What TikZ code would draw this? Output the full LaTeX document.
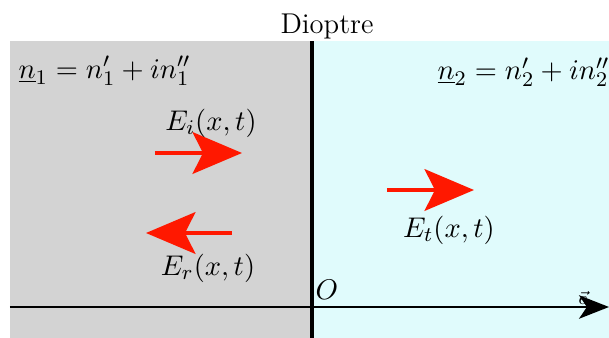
\documentclass[tikz,border=0pt]{standalone}
\usetikzlibrary{arrows.meta}
\definecolor{grayzone}{RGB}{211,211,211}
\definecolor{cyanzone}{RGB}{224,251,252}
\definecolor{wavered}{RGB}{255,24,0}
\begin{document}
\begin{tikzpicture}[x=0.3846pt,y=-0.3846pt,
  wave/.style={wavered,line width=1.6pt,-{Stealth[length=19pt,width=16pt,inset=4pt]}},
  lbl/.style={inner sep=0pt,font=\fontsize{11}{13}\selectfont}]
\useasboundingbox (0,0) rectangle (609,338);
\fill[grayzone] (10,41) rectangle (312,338);
\fill[cyanzone] (312,41) rectangle (609,338);
\node[lbl] (title) at (327,27) {Dioptre};
\coordinate (top) at (312,41);
\coordinate (bot) at (312,338);
\draw[line width=1.3pt] (top) -- (bot);
\coordinate (xa) at (10,307);
\coordinate (xb) at (609,307);
\draw[line width=0.9pt,-{Stealth[length=11.5pt,width=9pt,inset=3pt]}] (xa) -- (xb);
\node[lbl,anchor=west] (n1) at (18,71) {$\underline{n}_1=n'_1+in''_1$};
\node[lbl,anchor=west] (n2) at (437,72) {$\underline{n}_2=n'_2+in''_2$};
\node[lbl] (O) at (327,290) {$O$};
\node[lbl,font=\scriptsize] (e) at (583,298) {$\vec{e}$};
\coordinate (ia) at (155,153); \coordinate (ib) at (242,153);
\draw[wave] (ia) -- (ib);
\coordinate (ra) at (232,233); \coordinate (rb) at (146,233);
\draw[wave] (ra) -- (rb);
\coordinate (ta) at (387,190); \coordinate (tb) at (474,190);
\draw[wave] (ta) -- (tb);
\node[lbl] (Ei) at (211,123) {$E_i(x,t)$};
\node[lbl] (Er) at (208,268) {$E_r(x,t)$};
\node[lbl] (Et) at (449,230) {$E_t(x,t)$};
\end{tikzpicture}
\end{document}
